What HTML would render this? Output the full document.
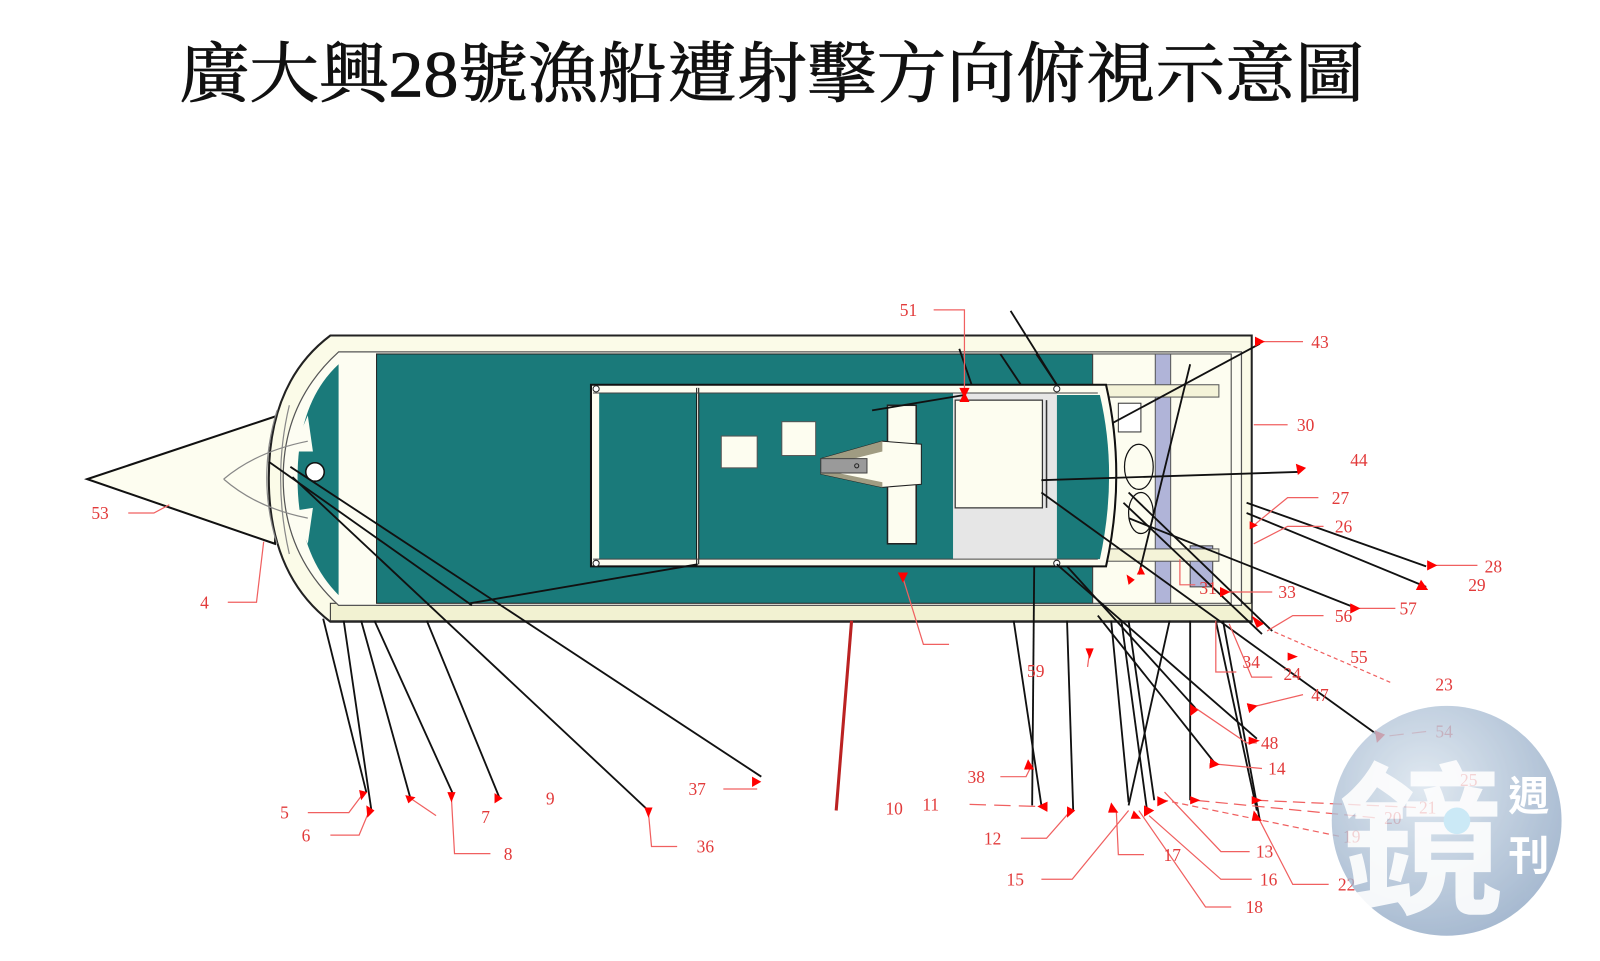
<!DOCTYPE html>
<html><head><meta charset="utf-8"><style>
html,body{margin:0;padding:0;background:#fff;width:1600px;height:961px;overflow:hidden}
svg{display:block}
.t{font-family:"Liberation Serif","Noto Serif CJK SC",serif;font-size:17px;fill:#e23a3a}
</style></head><body>
<svg width="1600" height="961" viewBox="0 0 1600 961" xmlns="http://www.w3.org/2000/svg">
<defs>
<marker id="a" markerWidth="10" markerHeight="10" refX="1" refY="5" orient="auto" markerUnits="userSpaceOnUse"><path d="M0,5 L10,0 L10,10 Z" fill="#f00"/></marker>
<radialGradient id="wg" cx="40%" cy="35%" r="70%"><stop offset="0" stop-color="#d9e4ee"/><stop offset="1" stop-color="#8fa7c4"/></radialGradient>
</defs>
<g transform="scale(1.026)">
<text x="175" y="94" font-family="'Liberation Serif','Noto Serif CJK TC','Noto Serif CJK SC',serif" font-size="64" fill="#111" stroke="#111" stroke-width="0.8" textLength="1155" lengthAdjust="spacingAndGlyphs">廣大興28號漁船遭射擊方向俯視示意圖</text>

<!-- bow cone -->
<path d="M85,467 L274,404 L268,530 Z" fill="#fdfdf0" stroke="#111" stroke-width="2"/>
<!-- hull -->
<path d="M322,327 L1220,327 L1220,606 L322,606 Q262,560 262,466 Q262,372 322,327 Z" fill="#fbfbe8" stroke="#222" stroke-width="2"/>
<rect x="322" y="588" width="898" height="17" fill="#f2f2d2" stroke="#333" stroke-width="1"/>
<path d="M330,343 L1210,343 L1210,590 L330,590 Q276,540 276,466 Q276,392 330,343 Z" fill="#fdfdf2" stroke="#555" stroke-width="1.2"/>
<path d="M330,355 L330,580 Q290,540 290,466 Q290,392 330,355 Z" fill="#1a7a7a"/>
<path d="M285,440 L300,405 L305,440 Z M285,498 L305,495 L300,530 Z" fill="#fdfdf2"/>
<circle cx="307" cy="460" r="9" fill="#fff" stroke="#111" stroke-width="1.5"/>
<rect x="367" y="345" width="698" height="243" fill="#1a7a7a" stroke="#222" stroke-width="1"/>
<!-- right compartment -->
<rect x="1065" y="345" width="135" height="243" fill="#fdfdf0" stroke="#444" stroke-width="1"/>
<rect x="1126" y="345" width="15" height="243" fill="#b0b4d8" stroke="#555" stroke-width="1"/>
<rect x="1160" y="532" width="22" height="40" fill="#b0b4d8" stroke="#444" stroke-width="1"/>
<rect x="1078" y="375" width="110" height="12" fill="#f4f3d8" stroke="#555" stroke-width="1"/>
<rect x="1078" y="535" width="110" height="12" fill="#f4f3d8" stroke="#555" stroke-width="1"/>
<rect x="1090" y="393" width="22" height="28" fill="#fff" stroke="#333" stroke-width="1"/>
<!-- deck frame -->
<path d="M576,375 L1078,375 Q1098,462 1078,552 L576,552 Z" fill="#fdfdf0" stroke="#111" stroke-width="2"/>
<rect x="584" y="383" width="345" height="162" fill="#1a7a7a"/>
<path d="M1030,385 L1072,385 Q1090,462 1072,545 L1030,545 Z" fill="#1a7a7a"/>
<rect x="929" y="383" width="101" height="162" fill="#e6e6e6"/>
<rect x="931" y="390" width="85" height="105" fill="#fdfdf0" stroke="#333" stroke-width="1.2"/>
<line x1="1020" y1="390" x2="1020" y2="495" stroke="#333" stroke-width="1.5"/>
<line x1="680" y1="378" x2="680" y2="550" stroke="#111" stroke-width="3"/>
<line x1="680" y1="378" x2="680" y2="550" stroke="#fdfdf0" stroke-width="1"/>
<line x1="578" y1="383" x2="1070" y2="383" stroke="#444" stroke-width="1"/>
<line x1="578" y1="545" x2="1070" y2="545" stroke="#444" stroke-width="1"/>
<circle cx="581" cy="379" r="3" fill="#fff" stroke="#222"/><circle cx="581" cy="549" r="3" fill="#fff" stroke="#222"/>
<circle cx="1030" cy="379" r="3" fill="#fff" stroke="#222"/><circle cx="1030" cy="549" r="3" fill="#fff" stroke="#222"/>
<rect x="703" y="425" width="35" height="31" fill="#fdfdf0" stroke="#555"/>
<rect x="762" y="411" width="33" height="33" fill="#fdfdf0" stroke="#555"/>
<rect x="865" y="395" width="28" height="135" fill="#fdfdf0" stroke="#222" stroke-width="1.5"/>
<path d="M800,447 L860,430 L898,433 L898,472 L860,475 L800,462 Z" fill="#fdfdf0" stroke="#222"/>
<path d="M800,447 L860,430 L860,440 L812,452 L812,460 L860,470 L860,475 L800,462 Z" fill="#a09c82"/>
<rect x="800" y="447" width="45" height="14" fill="#9a9a9a" stroke="#444"/>
<circle cx="835" cy="454" r="2" fill="none" stroke="#222"/>

<g stroke="#888" stroke-width="1.2" fill="none">
<path d="M218,467 Q250,440 300,430 M218,467 Q250,495 300,505 M270,400 Q250,466 270,530 M282,395 Q265,466 282,540"/>
</g>

<g stroke="#111" stroke-width="1.8" fill="none">
<line x1="315" y1="603" x2="357" y2="772"/>
<line x1="335" y1="605" x2="362" y2="790"/>
<line x1="352" y1="605" x2="400" y2="778"/>
<line x1="365" y1="605" x2="442" y2="775"/>
<line x1="416" y1="605" x2="487" y2="778"/>
<line x1="285" y1="465" x2="632" y2="790"/>
<line x1="283" y1="455" x2="742" y2="757"/>
<line x1="262" y1="450" x2="460" y2="590"/>
<line x1="458" y1="588" x2="680" y2="550"/>
<line x1="988" y1="605" x2="1015" y2="785"/>
<line x1="1008" y1="552" x2="1006" y2="785"/>
<line x1="1040" y1="605" x2="1046" y2="790"/>
<line x1="1030" y1="550" x2="1225" y2="720"/>
<line x1="1040" y1="552" x2="1165" y2="690"/>
<line x1="1070" y1="600" x2="1185" y2="745"/>
<line x1="1083" y1="605" x2="1100" y2="782"/>
<line x1="1093" y1="605" x2="1118" y2="790"/>
<line x1="1100" y1="605" x2="1125" y2="780"/>
<line x1="1140" y1="605" x2="1100" y2="785"/>
<line x1="1160" y1="605" x2="1160" y2="780"/>
<line x1="1185" y1="605" x2="1225" y2="790"/>
<line x1="1192" y1="605" x2="1228" y2="800"/>
<line x1="1015" y1="480" x2="1345" y2="718"/>
<line x1="1015" y1="468" x2="1265" y2="460"/>
<line x1="1085" y1="412" x2="1228" y2="335"/>
<line x1="1160" y1="355" x2="1110" y2="560"/>
<line x1="1215" y1="490" x2="1390" y2="552"/>
<line x1="1215" y1="500" x2="1390" y2="572"/>
<line x1="1100" y1="505" x2="1320" y2="592"/>
<line x1="1100" y1="480" x2="1240" y2="615"/>
<line x1="1095" y1="490" x2="1230" y2="618"/>
<line x1="985" y1="303" x2="1030" y2="375"/>
<line x1="975" y1="345" x2="995" y2="375"/>
<line x1="1010" y1="345" x2="1030" y2="375"/>
<line x1="935" y1="340" x2="947" y2="375"/>
<line x1="850" y1="400" x2="940" y2="385"/>
</g>
<line x1="830" y1="605" x2="815" y2="790" stroke="#b22" stroke-width="3"/>
<g stroke="#111" stroke-width="1.2" fill="none"><ellipse cx="1110" cy="455" rx="14" ry="22"/><ellipse cx="1112" cy="500" rx="12" ry="20"/></g>

<g stroke="#f06060" stroke-width="1.2" fill="none">
<polyline points="910,302 940,302 940,383" marker-end="url(#a)"/>
<line x1="1270" y1="333" x2="1232" y2="333" marker-end="url(#a)"/>
<polyline points="1255,414 1222,414"/>
<polyline points="1285,485 1255,485 1222,512"/>
<polyline points="1290,513 1255,513 1222,530"/>
<line x1="1440" y1="551" x2="1400" y2="551" marker-end="url(#a)"/>
<line x1="1360" y1="593" x2="1325" y2="593" marker-end="url(#a)"/>
<polyline points="1290,600 1260,600 1235,615"/>
<line x1="1240" y1="577" x2="1198" y2="577" marker-end="url(#a)"/>
<polyline points="1165,570 1150,570 1150,545"/>
<polyline points="1205,655 1185,655 1185,605"/>
<polyline points="1240,660 1220,660 1198,608"/>
<line x1="1270" y1="677" x2="1225" y2="688" marker-end="url(#a)"/>
<line x1="1390" y1="713" x2="1347" y2="718" stroke-dasharray="14,8"/>
<polyline points="1225,724 1215,724 1165,690"/>
<line x1="1230" y1="749" x2="1188" y2="745" marker-end="url(#a)"/>
<line x1="1355" y1="665" x2="1240" y2="615" stroke-dasharray="4,3"/>
<line x1="1380" y1="787" x2="1225" y2="780" stroke-dasharray="12,6"/>
<line x1="1340" y1="797" x2="1165" y2="780" stroke-dasharray="12,6"/>
<line x1="1305" y1="815" x2="1135" y2="780" stroke-dasharray="6,4"/>
<polyline points="1218,830 1190,830 1135,772"/>
<polyline points="1295,862 1260,862 1228,800"/>
<polyline points="1220,857 1190,857 1120,795"/>
<polyline points="1200,884 1175,884 1110,790"/>
<polyline points="1115,833 1090,833 1088,790"/>
<polyline points="1015,857 1045,857 1100,790"/>
<polyline points="995,817 1020,817 1042,792"/>
<line x1="945" y1="784" x2="1012" y2="786" marker-end="url(#a)" stroke-dasharray="16,8"/>
<polyline points="975,757 1000,757 1006,745"/>
<line x1="1060" y1="650" x2="1062" y2="635"/>
<polyline points="925,628 900,628 880,563"/>
<polyline points="705,769 738,769" />
<polyline points="660,825 635,825 632,792"/>
<polyline points="478,832 443,832 440,778"/>
<polyline points="425,795 400,778"/>
<polyline points="322,814 350,814 360,790"/>
<polyline points="300,792 340,792 355,772"/>
<polyline points="222,587 250,587 257,528"/>
<polyline points="125,500 150,500 165,492"/>
</g>
<g fill="#f00">
<path d="M935,378 L945,378 L940,388Z"/><path d="M1263,452 L1273,456 L1265,463Z"/><path d="M1385,565 L1392,575 L1380,575Z"/>
<path d="M1220,600 L1232,608 L1225,612Z"/><path d="M1255,636 L1265,640 L1255,644Z"/><path d="M1217,718 L1228,722 L1217,726Z"/>
<path d="M1340,712 L1350,716 L1342,724Z"/><path d="M1160,686 L1168,692 L1160,698Z"/><path d="M1128,776 L1138,781 L1128,786Z"/>
<path d="M1160,776 L1170,780 L1160,784Z"/><path d="M1220,776 L1230,780 L1220,784Z"/><path d="M1222,790 L1230,800 L1220,800Z"/>
<path d="M1115,785 L1125,790 L1115,796Z"/><path d="M1105,790 L1112,798 L1102,798Z"/><path d="M1083,782 L1090,792 L1080,792Z"/>
<path d="M1040,786 L1048,790 L1040,797Z"/><path d="M1002,740 L1008,750 L998,750Z"/><path d="M1058,632 L1066,632 L1062,642Z"/>
<path d="M875,558 L885,558 L880,568Z"/><path d="M733,757 L742,762 L733,767Z"/><path d="M628,787 L636,787 L632,797Z"/>
<path d="M482,773 L490,778 L482,783Z"/><path d="M436,772 L444,772 L440,782Z"/><path d="M395,775 L405,777 L398,783Z"/>
<path d="M350,770 L358,772 L352,780Z"/><path d="M357,785 L365,790 L358,797Z"/><path d="M1108,560 L1116,560 L1112,552Z"/>
<path d="M1098,560 L1106,565 L1100,570Z"/><path d="M1218,508 L1226,512 L1218,516Z"/>
</g>

<g class="t">
<text x="877" y="308">51</text><text x="1278" y="339">43</text><text x="1264" y="420">30</text><text x="1316" y="454">44</text>
<text x="1298" y="491">27</text><text x="1301" y="519">26</text><text x="1447" y="558">28</text><text x="1431" y="576">29</text>
<text x="1364" y="599">57</text><text x="1301" y="606">56</text><text x="1246" y="583">33</text><text x="1169" y="579">31</text>
<text x="1316" y="646">55</text><text x="1211" y="651">34</text><text x="1251" y="663">24</text><text x="1399" y="673">23</text>
<text x="1278" y="683">47</text><text x="1399" y="719">54</text><text x="1229" y="730">48</text><text x="1236" y="755">14</text>
<text x="1423" y="766">25</text><text x="1383" y="793">21</text><text x="1349" y="803">20</text><text x="1309" y="821">19</text>
<text x="1224" y="836">13</text><text x="1304" y="868">22</text><text x="1228" y="863">16</text><text x="1214" y="890">18</text>
<text x="1134" y="839">17</text><text x="981" y="863">15</text><text x="959" y="823">12</text><text x="899" y="790">11</text>
<text x="863" y="794">10</text><text x="943" y="763">38</text><text x="1001" y="660">59</text><text x="532" y="784">9</text>
<text x="671" y="775">37</text><text x="679" y="831">36</text><text x="491" y="838">8</text><text x="469" y="802">7</text>
<text x="294" y="820">6</text><text x="273" y="798">5</text><text x="195" y="593">4</text><text x="89" y="506">53</text>
</g>

<g opacity="0.8">
<circle cx="1410" cy="800" r="112" fill="url(#wg)"/>
<text x="1305" y="878" font-family="'Noto Sans CJK TC',sans-serif" font-weight="bold" font-size="160" fill="#fff" opacity="0.9">鏡</text>
<text x="1470" y="790" font-family="'Noto Sans CJK TC',sans-serif" font-weight="bold" font-size="40" fill="#fff">週</text>
<text x="1470" y="848" font-family="'Noto Sans CJK TC',sans-serif" font-weight="bold" font-size="40" fill="#fff">刊</text>
<circle cx="1420" cy="800" r="13" fill="#bfe4f4"/>
</g>
</g>
</svg>
</body></html>
